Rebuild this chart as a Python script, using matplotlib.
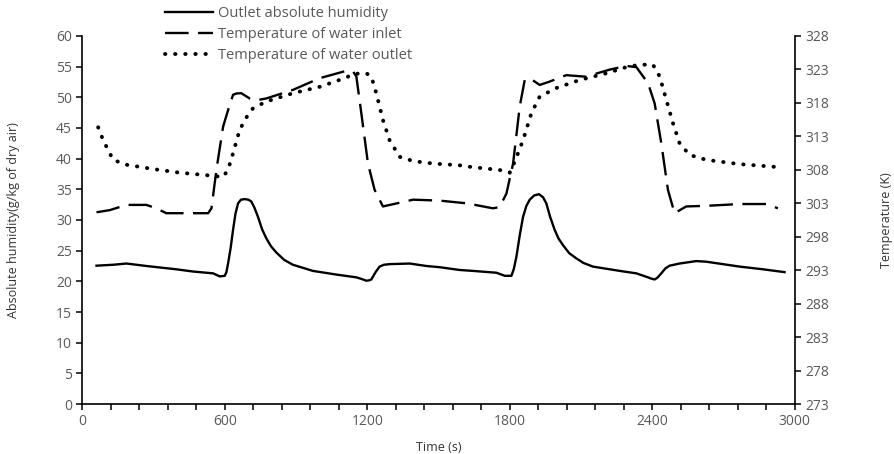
import numpy as np
import matplotlib.pyplot as plt
from matplotlib.ticker import MultipleLocator, FixedLocator

plt.rcParams['font.family'] = ['Open Sans', 'DejaVu Sans']

# outlet absolute humidity (g/kg of dry air), left axis
t_hum = [60, 130, 186, 270, 396, 466, 551, 579, 600, 607, 614, 625, 635, 645, 656, 668, 684,
         700, 712, 725, 740, 757, 775, 795, 817, 850, 887, 971, 1070, 1154, 1175, 1196, 1207,
         1217, 1235, 1252, 1270, 1294, 1379, 1449, 1505, 1589, 1645, 1744, 1779, 1807, 1817,
         1828, 1842, 1856, 1870, 1884, 1903, 1923, 1940, 1954, 1970, 1989, 2005, 2024, 2050,
         2080, 2110, 2150, 2263, 2333, 2382, 2395, 2410, 2422, 2438, 2455, 2473, 2515, 2585,
         2627, 2768, 2866, 2957]
humidity = [22.55, 22.7, 22.9, 22.5, 21.96, 21.6, 21.3, 20.8, 20.9, 21.5, 22.9, 25.5, 28.4,
            31.0, 32.7, 33.3, 33.4, 33.3, 33.0, 32.0, 30.5, 28.5, 27.0, 25.7, 24.7, 23.5,
            22.7, 21.7, 21.1, 20.65, 20.4, 20.1, 20.15, 20.3, 21.5, 22.4, 22.7, 22.8, 22.9,
            22.5, 22.3, 21.85, 21.7, 21.4, 20.9, 20.9, 22.0, 24.0, 27.5, 30.5, 32.3, 33.3,
            34.0, 34.2, 33.7, 32.7, 30.5, 28.4, 27.0, 25.9, 24.6, 23.75, 23.0, 22.4, 21.7,
            21.3, 20.65, 20.45, 20.3, 20.6, 21.3, 22.1, 22.55, 22.9, 23.3, 23.2, 22.4, 21.96,
            21.5]

# temperature of water inlet (K), right axis
t_in = [60, 116, 186, 270, 312, 354, 438, 530, 544, 565, 593, 614, 635, 650, 670, 705, 733,
        775, 887, 1000, 1112, 1140, 1154, 1175, 1203, 1231, 1266, 1336, 1393, 1505, 1620,
        1729, 1757, 1786, 1814, 1842, 1863, 1884, 1926, 1968, 2038, 2120, 2221, 2291, 2333,
        2382, 2410, 2438, 2466, 2494, 2543, 2627, 2768, 2880, 2908, 2929]
temp_in = [301.65, 301.97, 302.75, 302.75, 302.24, 301.51, 301.51, 301.51, 302.24, 308.02,
           314.43, 316.91, 319.2, 319.4, 319.43, 318.65, 318.38, 318.65, 319.93, 321.68,
           322.78, 322.68, 321.95, 316.45, 308.93, 304.99, 302.52, 303.07, 303.53, 303.39,
           302.98, 302.24, 302.43, 304.44, 308.93, 317.46, 321.4, 321.68, 320.67, 321.17,
           322.13, 321.9, 322.96, 323.51, 323.33, 320.94, 317.92, 311.96, 304.99, 301.51,
           302.52, 302.61, 302.88, 302.88, 302.52, 302.24]

# temperature of water outlet (K), right axis
t_out = [67, 88, 130, 186, 298, 410, 523, 593, 614, 635, 663, 691, 719, 775, 887, 1000, 1112,
         1140, 1196, 1217, 1238, 1266, 1294, 1336, 1393, 1477, 1589, 1645, 1757, 1800, 1821,
         1856, 1891, 1926, 1996, 2094, 2207, 2291, 2347, 2403, 2431, 2459, 2487, 2515, 2557,
         2627, 2768, 2936]
temp_out = [314.34, 312.42, 309.48, 308.75, 308.11, 307.56, 307.19, 306.92, 308.02, 310.49,
            313.98, 315.81, 317.18, 318.19, 319.43, 320.39, 321.77, 322.32, 322.41, 321.95,
            319.43, 315.44, 312.42, 309.94, 309.3, 308.93, 308.66, 308.38, 307.97, 307.56,
            309.21, 312.42, 316.45, 318.93, 320.21, 321.4, 322.41, 323.33, 323.69, 323.69,
            321.95, 318.47, 314.98, 311.96, 310.22, 309.48, 308.84, 308.38]

gray = '#595959'

fig = plt.figure(figsize=(8.94, 4.54), dpi=100)
ax = fig.add_axes([0.092, 0.110, 0.797, 0.811])
ax2 = ax.twinx()

l1, = ax.plot(t_hum, humidity, color='black', lw=1.7, solid_joinstyle='round')
l2, = ax2.plot(t_in, temp_in, color='black', lw=1.7, linestyle=(0, (10, 4)))
l3, = ax2.plot(t_out, temp_out, color='black', lw=2.8, linestyle=(0, (0.1, 2.5)),
               dash_capstyle='round')

ax.set_xlim(0, 3000)
ax.set_ylim(0, 60)
ax2.set_ylim(273, 328)
ax.xaxis.set_major_locator(MultipleLocator(600))
ax.xaxis.set_minor_locator(MultipleLocator(120))
ax.yaxis.set_major_locator(MultipleLocator(5))
ax2.yaxis.set_major_locator(FixedLocator(np.arange(273, 329, 5)))

for a in (ax, ax2):
    a.spines['top'].set_visible(False)
    for s in a.spines.values():
        s.set_linewidth(1.2)
    a.tick_params(axis='both', which='both', direction='out', length=4, width=1.1,
                  labelsize=10, labelcolor=gray, color='black')
ax.spines['right'].set_visible(False)
ax2.spines['left'].set_visible(False)
ax2.spines['bottom'].set_visible(False)

ax.set_xlabel('Time (s)', fontsize=9, color='#333333', labelpad=8)
ax.set_ylabel('Absolute humidity(g/kg of dry air)', fontsize=9, color='#333333')
ax.yaxis.set_label_coords(-0.088, 0.5)
ax2.set_ylabel('Temperature (K)', fontsize=9, color='#333333', rotation=90)
ax2.yaxis.set_label_coords(1.12, 0.5)

leg = fig.legend([l1, l2, l3], ['Outlet absolute humidity', 'Temperature of water inlet',
                                'Temperature of water outlet'],
                 loc='upper left', bbox_to_anchor=(0.1846, 0.987), frameon=False,
                 fontsize=10.5, handlelength=3.3, handletextpad=0.3, labelspacing=0.42,
                 borderpad=0, borderaxespad=0)
for txt in leg.get_texts():
    txt.set_color(gray)

fig.savefig('out.png', dpi=100)
